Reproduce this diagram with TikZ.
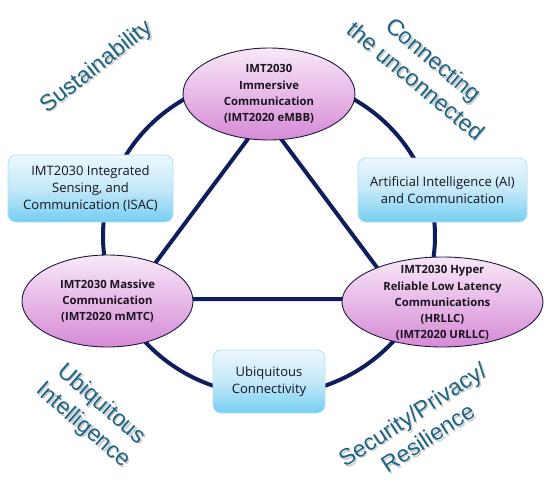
\documentclass[tikz,border=0pt]{standalone}
\usepackage{fontspec}
\setmainfont{Open Sans}
\newfontfamily\labelfont{Liberation Sans}
\usetikzlibrary{shapes.geometric}
\definecolor{navy}{RGB}{14,30,92}
\definecolor{teal}{RGB}{30,100,132}
\definecolor{pinktop}{RGB}{248,232,248}
\definecolor{pinkbot}{RGB}{214,138,214}
\definecolor{bluetop}{RGB}{236,248,253}
\definecolor{bluebot}{RGB}{118,206,242}
\definecolor{blueedge}{RGB}{178,224,244}
\tikzset{
  ring/.style={draw=navy, line width=4pt},
  tri/.style={draw=navy, line width=4pt},
  oval/.style={ellipse, draw={rgb,255:red,30;green,25;blue,60}, line width=0.9pt,
    top color=pinktop, bottom color=pinkbot, inner sep=0pt},
  ovaltext/.style={align=center, font=\bfseries\fontsize{11.3}{16.2}\selectfont, text={rgb,255:red,25;green,20;blue,30}},
  bluebox/.style={draw=blueedge, line width=0.8pt, rounded corners=8pt,
    top color=bluetop, bottom color=bluebot, middle color={rgb,255:red,196;green,232;blue,248},
    align=center, font=\fontsize{13}{16.8}\selectfont, text={rgb,255:red,20;green,20;blue,30}, inner sep=2pt},
  biglabel/.style={align=center, text=teal, font=\labelfont\fontsize{23}{28}\selectfont},
  bigshadow/.style={align=center, text=black, opacity=0.2, font=\labelfont\fontsize{23}{28}\selectfont}
}
\begin{document}
\begin{tikzpicture}[x=1pt,y=-1pt]
\useasboundingbox (0,0) rectangle (550,480);

% outer ring
\draw[ring] (269,236) ellipse [x radius=166pt, y radius=159pt];

% triangle vertex coordinates
\coordinate (tA) at (264.5,116.7);
\coordinate (tB) at (128.5,299);
\coordinate (tC) at (400.5,299);
\draw[tri, line join=miter] (tA) -- (tB) -- (tC) -- cycle;

% ellipses
\node[oval, minimum width=172pt, minimum height=92pt] (embb) at (269,94) {};
\node[ovaltext] (embbt) at (embb.center) {IMT2030\\Immersive\\Communication\\(IMT2020 eMBB)};

\node[oval, minimum width=171pt, minimum height=92pt] (mmtc) at (107.5,301) {};
\node[ovaltext] (mmtct) at (mmtc.center) {IMT2030 Massive\\Communication\\(IMT2020 mMTC)};

\node[oval, minimum width=201pt, minimum height=90pt] (urllc) at (442.5,302) {};
\node[ovaltext] (urllct) at ([yshift=-1pt]urllc.center) {IMT2030 Hyper\\Reliable Low Latency\\Communications\\(HRLLC)\\(IMT2020 URLLC)};

% blue boxes
\node[bluebox, minimum width=165pt, minimum height=67pt] (isac) at (90.5,188.5) {IMT2030 Integrated\\Sensing, and\\Communication (ISAC)};
\node[bluebox, minimum width=169pt, minimum height=64pt] (ai) at (442.5,190) {Artificial Intelligence (AI)\\and Communication};
\node[bluebox, minimum width=112pt, minimum height=63pt] (ubc) at (269,381.5) {Ubiquitous\\Connectivity};

% rotated labels with soft shadow
\node[bigshadow, rotate=38] at (98.5,68.5) {Sustainability};
\node[biglabel, rotate=38] (sus) at (97,67) {Sustainability};

\node[bigshadow, rotate=-40] at (426.5,71.5) {Connecting\\the unconnected};
\node[biglabel, rotate=-40] (conn) at (425,70) {Connecting\\the unconnected};

\node[bigshadow, rotate=-41] at (93.5,416.5) {Ubiquitous\\Intelligence};
\node[biglabel, rotate=-41] (ubi) at (92,415) {Ubiquitous\\Intelligence};

\node[bigshadow, rotate=33] at (421.5,427.5) {Security/Privacy/\\Resilience};
\node[biglabel, rotate=33] (sec) at (420,426) {Security/Privacy/\\Resilience};
\end{tikzpicture}
\end{document}
